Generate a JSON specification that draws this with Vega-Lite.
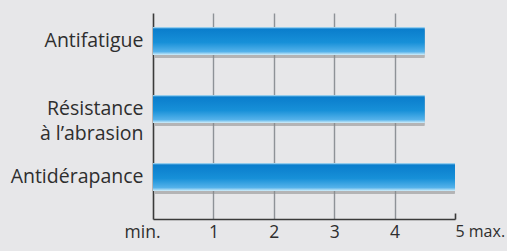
{
  "$schema": "https://vega.github.io/schema/vega-lite/v6.json",
  "width": 302,
  "height": 206,
  "autosize": {"type": "none"},
  "padding": {"left": 153, "top": 13, "right": 52, "bottom": 32},
  "background": "#e7e7e9",
  "config": {"view": {"stroke": null}},
  "data": {"values": [
    {"critere": "Antifatigue", "note": 4.5},
    {"critere": "Résistance à l’abrasion", "note": 4.5},
    {"critere": "Antidérapance", "note": 5}
  ]},
  "encoding": {
    "y": {
      "field": "critere", "type": "nominal", "sort": null, "title": null,
      "scale": {"paddingInner": 0.588, "paddingOuter": 0.309, "align": 0.333},
      "axis": {
        "domainColor": "#3a3a3a", "domainWidth": 1.6, "ticks": false,
        "labelFont": "Open Sans", "labelFontSize": 19.5, "labelColor": "#2e2e2e",
        "labelPadding": 10, "labelLineHeight": 25,
        "labelExpr": "datum.value == 'Résistance à l’abrasion' ? ['Résistance', 'à l’abrasion'] : datum.value"
      }
    }
  },
  "layer": [
    {
      "mark": {"type": "bar", "color": "#8a8a8a", "opacity": 0.55, "yOffset": 3, "xOffset": 2, "cornerRadius": 1},
      "encoding": {
        "x": {
          "field": "note", "type": "quantitative", "title": null,
          "scale": {"domain": [0, 5], "nice": false},
          "axis": {
            "values": [0, 1, 2, 3, 4, 5],
            "grid": true,
            "gridColor": {"condition": {"test": "datum.value == 0 || datum.value == 5", "value": "transparent"}, "value": "#8e9297"},
            "gridWidth": 1.4,
            "domainColor": "#3a3a3a", "domainWidth": 1.6,
            "tickSize": -6, "tickWidth": 1.6,
            "tickColor": {"condition": {"test": "datum.value == 5", "value": "#3a3a3a"}, "value": "transparent"},
            "labelFont": "Open Sans", "labelColor": "#2e2e2e",
            "labelFontSize": {"condition": {"test": "datum.value == 5", "value": 16}, "value": 17.5},
            "labelPadding": 10,
            "labelAlign": {"condition": {"test": "datum.value == 5", "value": "left"}, "value": "center"},
            "labelOffset": {"condition": {"test": "datum.value == 0", "value": -11}, "value": 0},
            "labelDx": {"condition": {"test": "datum.value == 5", "value": -8}, "value": 0},
            "labelExpr": "datum.value == 0 ? 'min.' : datum.value == 5 ? '5 max.' : format(datum.value, 'd')",
            "labelFlush": false
          }
        },
        "size": {"value": 28}
      }
    },
    {
      "mark": {
        "type": "bar",
        "size": 28,
        "color": {
          "gradient": "linear", "x1": 0, "y1": 0, "x2": 0, "y2": 1,
          "stops": [
            {"offset": 0, "color": "#c4e8f8"},
            {"offset": 0.07, "color": "#0a7dcc"},
            {"offset": 0.55, "color": "#1790d8"},
            {"offset": 0.88, "color": "#55b2ea"},
            {"offset": 1, "color": "#d2eefa"}
          ]
        }
      },
      "encoding": {
        "x": {"field": "note", "type": "quantitative"}
      }
    }
  ]
}
